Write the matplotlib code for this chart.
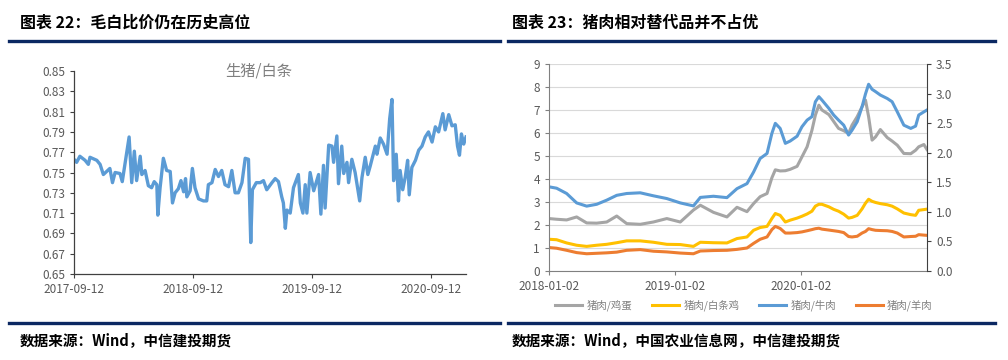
import matplotlib
matplotlib.use("Agg")
import matplotlib.pyplot as plt
from matplotlib.lines import Line2D
import pandas as pd

plt.rcParams["font.family"] = ["Noto Sans CJK SC", "DejaVu Sans"]

# ---- chart 22: 生猪/白条 ----
hog_dates = [
    "2017-09-12", "2017-09-20", "2017-09-30", "2017-10-16", "2017-10-26", "2017-10-31", "2017-11-21", "2017-12-01",
    "2017-12-11", "2017-12-21", "2017-12-31", "2018-01-08", "2018-01-16", "2018-01-31", "2018-02-07", "2018-02-16",
    "2018-02-28", "2018-03-08", "2018-03-16", "2018-03-23", "2018-04-03", "2018-04-08", "2018-04-18", "2018-04-28",
    "2018-05-08", "2018-05-16", "2018-05-24", "2018-05-27", "2018-06-03", "2018-06-13", "2018-06-23", "2018-07-04",
    "2018-07-11", "2018-07-19", "2018-07-29", "2018-08-06", "2018-08-14", "2018-08-20", "2018-08-24", "2018-09-03",
    "2018-09-10", "2018-09-18", "2018-09-29", "2018-10-14", "2018-10-24", "2018-10-29", "2018-11-09", "2018-11-19",
    "2018-11-29", "2018-12-09", "2018-12-19", "2018-12-30", "2019-01-09", "2019-01-19", "2019-01-29", "2019-02-09",
    "2019-02-19", "2019-03-01", "2019-03-08", "2019-03-13", "2019-03-25", "2019-04-06", "2019-04-16", "2019-04-26",
    "2019-05-12", "2019-05-22", "2019-06-01", "2019-06-11", "2019-06-16", "2019-06-22", "2019-06-27", "2019-07-07",
    "2019-07-17", "2019-08-01", "2019-08-07", "2019-08-15", "2019-08-22", "2019-08-27", "2019-09-06", "2019-09-17",
    "2019-10-02", "2019-10-09", "2019-10-17", "2019-10-22", "2019-11-02", "2019-11-12", "2019-11-17", "2019-11-27",
    "2019-12-02", "2019-12-12", "2019-12-18", "2019-12-28", "2020-01-02", "2020-01-12", "2020-01-22", "2020-02-05",
    "2020-02-12", "2020-02-22", "2020-03-01", "2020-03-08", "2020-03-24", "2020-03-29", "2020-04-08", "2020-04-18",
    "2020-04-29", "2020-05-07", "2020-05-14", "2020-05-19", "2020-05-27", "2020-06-03", "2020-06-08", "2020-06-16",
    "2020-06-24", "2020-07-01", "2020-07-06", "2020-07-14", "2020-07-25", "2020-08-04", "2020-08-14", "2020-08-24",
    "2020-09-03", "2020-09-14", "2020-09-24", "2020-10-04", "2020-10-17", "2020-10-24", "2020-11-04", "2020-11-14",
    "2020-11-24", "2020-12-01", "2020-12-07", "2020-12-13", "2020-12-20", "2020-12-27",
]
hog_ratio = [
    0.763, 0.760, 0.766, 0.762, 0.758, 0.765, 0.762, 0.758,
    0.748, 0.751, 0.754, 0.740, 0.750, 0.749, 0.741, 0.760,
    0.785, 0.740, 0.771, 0.742, 0.766, 0.748, 0.752, 0.737,
    0.735, 0.741, 0.738, 0.708, 0.735, 0.764, 0.752, 0.751,
    0.720, 0.730, 0.734, 0.742, 0.731, 0.744, 0.726, 0.732,
    0.754, 0.735, 0.724, 0.722, 0.722, 0.738, 0.740, 0.753,
    0.746, 0.752, 0.738, 0.736, 0.752, 0.730, 0.730, 0.740,
    0.764, 0.763, 0.681, 0.733, 0.740, 0.740, 0.742, 0.733,
    0.740, 0.744, 0.741, 0.726, 0.720, 0.695, 0.713, 0.710,
    0.735, 0.748, 0.720, 0.710, 0.738, 0.710, 0.750, 0.732,
    0.748, 0.709, 0.757, 0.715, 0.777, 0.776, 0.760, 0.786,
    0.739, 0.776, 0.749, 0.760, 0.740, 0.763, 0.750, 0.722,
    0.745, 0.765, 0.748, 0.756, 0.776, 0.768, 0.784, 0.778,
    0.768, 0.803, 0.822, 0.742, 0.768, 0.722, 0.752, 0.733,
    0.746, 0.762, 0.728, 0.755, 0.762, 0.772, 0.776, 0.785,
    0.790, 0.780, 0.795, 0.790, 0.808, 0.792, 0.807, 0.796,
    0.797, 0.776, 0.767, 0.788, 0.778, 0.785,
]
left_ticks = ["2017-09-12", "2018-09-12", "2019-09-12", "2020-09-12"]

# ---- chart 23: 猪肉相对替代品 ----
sub_dates = [
    "2018-01-02", "2018-01-24", "2018-02-22", "2018-03-23", "2018-04-21", "2018-05-20", "2018-06-18", "2018-07-17", "2018-08-15", "2018-09-23",
    "2018-10-31", "2018-12-09", "2019-01-17", "2019-02-24", "2019-03-16", "2019-04-23", "2019-06-01", "2019-06-30", "2019-07-29", "2019-08-17",
    "2019-09-05", "2019-09-25", "2019-10-09", "2019-10-19", "2019-11-02", "2019-11-17", "2019-12-01", "2019-12-21", "2020-01-04", "2020-01-19",
    "2020-02-02", "2020-02-12", "2020-02-22", "2020-03-02", "2020-03-22", "2020-04-05", "2020-04-19", "2020-05-04", "2020-05-18", "2020-05-28",
    "2020-06-12", "2020-06-26", "2020-07-06", "2020-07-15", "2020-07-25", "2020-08-04", "2020-08-18", "2020-09-07", "2020-09-21", "2020-10-06",
    "2020-10-25", "2020-11-14", "2020-11-28", "2020-12-07", "2020-12-22", "2020-12-31",
]
pork_egg = [
    2.28, 2.25, 2.22, 2.35, 2.09, 2.08, 2.13, 2.39, 2.06, 2.03,
    2.13, 2.28, 2.13, 2.65, 2.86, 2.55, 2.35, 2.77, 2.58, 2.93,
    3.23, 3.37, 4.05, 4.40, 4.35, 4.36, 4.42, 4.55, 4.96, 5.40,
    6.12, 6.78, 7.21, 7.00, 6.80, 6.50, 6.20, 6.10, 5.98, 6.34,
    6.71, 7.14, 7.43, 6.71, 5.69, 5.83, 6.15, 5.80, 5.65, 5.47,
    5.11, 5.10, 5.25, 5.40, 5.50, 5.28,
]
pork_chicken = [
    1.38, 1.36, 1.22, 1.12, 1.07, 1.12, 1.16, 1.23, 1.31, 1.31,
    1.25, 1.16, 1.15, 1.07, 1.25, 1.23, 1.22, 1.41, 1.48, 1.77,
    1.89, 1.94, 2.28, 2.50, 2.42, 2.13, 2.21, 2.30, 2.38, 2.48,
    2.60, 2.82, 2.90, 2.90, 2.79, 2.68, 2.60, 2.47, 2.30, 2.33,
    2.42, 2.70, 2.95, 3.12, 3.03, 2.98, 2.93, 2.88, 2.82, 2.70,
    2.52, 2.45, 2.42, 2.64, 2.67, 2.69,
]
pork_beef = [
    3.66, 3.60, 3.37, 2.96, 2.82, 2.90, 3.08, 3.29, 3.37, 3.40,
    3.27, 3.15, 2.96, 2.83, 3.20, 3.25, 3.19, 3.58, 3.80, 4.30,
    4.89, 5.11, 5.98, 6.42, 6.20, 5.55, 5.65, 5.86, 6.27, 6.56,
    6.71, 7.36, 7.58, 7.43, 7.07, 6.78, 6.56, 6.34, 5.91, 6.12,
    6.49, 7.14, 7.70, 8.12, 7.90, 7.80, 7.65, 7.50, 7.36, 6.92,
    6.34, 6.20, 6.30, 6.78, 6.92, 7.00,
]
pork_mutton = [
    1.02, 0.99, 0.90, 0.80, 0.75, 0.77, 0.79, 0.82, 0.90, 0.93,
    0.86, 0.83, 0.78, 0.75, 0.87, 0.89, 0.90, 0.94, 1.00, 1.20,
    1.38, 1.48, 1.80, 1.94, 1.85, 1.65, 1.65, 1.67, 1.70, 1.75,
    1.80, 1.84, 1.86, 1.82, 1.78, 1.75, 1.72, 1.67, 1.50, 1.48,
    1.51, 1.65, 1.72, 1.84, 1.80, 1.77, 1.76, 1.75, 1.72, 1.65,
    1.48, 1.50, 1.51, 1.58, 1.56, 1.55,
]
sub_labels = ["猪肉/鸡蛋", "猪肉/白条鸡", "猪肉/牛肉", "猪肉/羊肉"]
sub_colors = ["#A5A5A5", "#FFC000", "#5B9BD5", "#ED7D31"]
right_ticks = ["2018-01-02", "2019-01-02", "2020-01-02"]

NAVY = "#0B2862"
TICK = "#595959"

fig = plt.figure(figsize=(10.08, 3.6), dpi=100)

# header / footer decoration
fig.text(20 / 1008, 0.938, "图表 22：毛白比价仍在历史高位", fontsize=11.5, fontweight="bold", va="center")
fig.text(512 / 1008, 0.938, "图表 23：猪肉相对替代品并不占优", fontsize=11.5, fontweight="bold", va="center")
for x0, x1 in [(9, 500), (508, 995)]:
    fig.add_artist(Line2D([x0 / 1008, x1 / 1008], [0.886, 0.886], color=NAVY, lw=2.4))
    fig.add_artist(Line2D([x0 / 1008, x1 / 1008], [0.103, 0.103], color=NAVY, lw=2.4))
fig.text(20 / 1008, 0.055, "数据来源：Wind，中信建投期货", fontsize=10.5, fontweight="bold",
         fontstyle="italic", va="center")
fig.text(512 / 1008, 0.055, "数据来源：Wind，中国农业信息网，中信建投期货", fontsize=10.5,
         fontweight="bold", fontstyle="italic", va="center")

# left chart
ax1 = fig.add_axes([74 / 1008, 1 - 274 / 360, (466 - 74) / 1008, (274 - 71) / 360])
ax1.plot(pd.to_datetime(hog_dates), hog_ratio, color="#5B9BD5", lw=2.4, solid_joinstyle="round")
ax1.set_ylim(0.65, 0.85)
ax1.set_yticks([0.65 + 0.02 * i for i in range(11)])
ax1.yaxis.set_major_formatter(plt.FuncFormatter(lambda v, p: f"{v:.2f}"))
ax1.set_xlim(pd.Timestamp(hog_dates[0]), pd.Timestamp(hog_dates[-1]))
ax1.set_xticks(pd.to_datetime(left_ticks))
ax1.set_xticklabels(left_ticks)
for s in ["top", "right"]:
    ax1.spines[s].set_visible(False)
for s in ["left", "bottom"]:
    ax1.spines[s].set_color("#404040")
    ax1.spines[s].set_linewidth(0.9)
ax1.tick_params(labelsize=8.5, labelcolor=TICK, color="#404040", length=3, width=0.8)
ax1.text(0.47, 1.0, "生猪/白条", transform=ax1.transAxes, ha="center", va="center",
         fontsize=11, color="#7F7F7F")

# right chart
ax2 = fig.add_axes([549 / 1008, 1 - 271 / 360, (927 - 549) / 1008, (271 - 64) / 360])
sd = pd.to_datetime(sub_dates)
for vals, lab, col in zip([pork_egg, pork_chicken, pork_beef, pork_mutton], sub_labels, sub_colors):
    ax2.plot(sd, vals, color=col, lw=2.2, label=lab)
ax2.set_ylim(0, 9)
ax2.set_yticks(range(10))
ax2.set_xlim(sd[0], sd[-1])
ax2.set_xticks(pd.to_datetime(right_ticks))
ax2.set_xticklabels(right_ticks)
ax2.grid(axis="y", color="#D9D9D9", lw=0.8)
ax2.set_axisbelow(True)
ax2.spines["top"].set_visible(False)
ax2.spines["right"].set_visible(False)
for s in ["left", "bottom"]:
    ax2.spines[s].set_color("#808080")
ax2.tick_params(labelsize=8.5, labelcolor=TICK, color="#808080", length=3)

ax3 = ax2.twinx()
ax3.set_ylim(0, 3.5)
ax3.set_yticks([0.5 * i for i in range(8)])
ax3.yaxis.set_major_formatter(plt.FuncFormatter(lambda v, p: f"{v:.1f}"))
for s in ["top", "left", "bottom"]:
    ax3.spines[s].set_visible(False)
ax3.spines["right"].set_color("#404040")
ax3.tick_params(labelsize=8.5, labelcolor=TICK, color="#404040", length=3)

handles, labels = ax2.get_legend_handles_labels()
fig.legend(handles, labels, loc="center", bbox_to_anchor=(0.738, 0.153), ncol=4, frameon=False,
           fontsize=7.5, labelcolor="#7F7F7F", handlelength=2.6, columnspacing=1.9, handletextpad=0.4)

fig.savefig("out.png", dpi=100)
